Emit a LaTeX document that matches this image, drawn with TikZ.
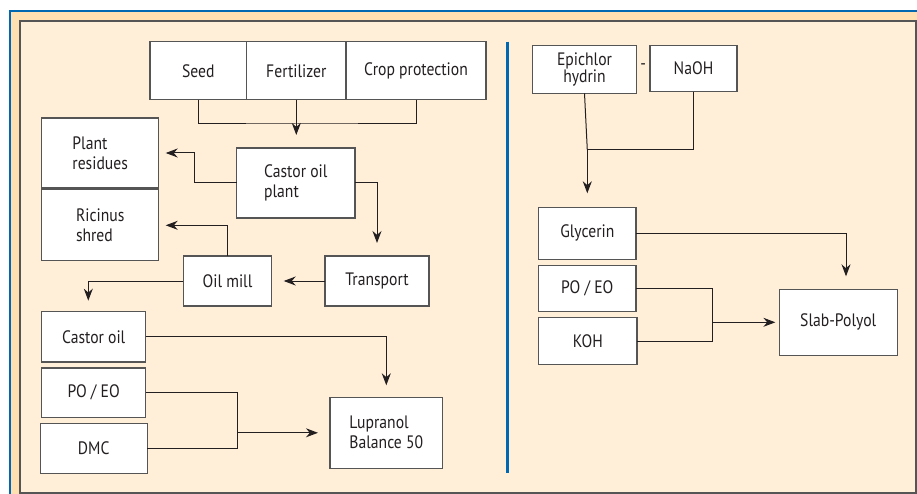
\documentclass[tikz,border=0pt]{standalone}
\usepackage{fontspec}
\setmainfont[FakeStretch=0.87]{PT Sans}
\usepackage{tikz}
\usetikzlibrary{arrows.meta}
\definecolor{frameblue}{RGB}{0,103,177}
\definecolor{bandorange}{RGB}{255,224,176}
\definecolor{panelcream}{RGB}{255,239,217}
\definecolor{boxgray}{RGB}{85,85,85}
\definecolor{inkgray}{RGB}{35,31,32}
\tikzstyle{box}=[draw=boxgray, fill=white, line width=1.1pt, inner sep=0, outer sep=0,
                 text=inkgray, font=\fontsize{18}{20}\selectfont]
\tikzstyle{link}=[draw=inkgray, line width=1pt]
\tikzstyle{feed}=[link, -{Stealth[length=12pt, width=9pt]}]

\begin{document}
\begin{tikzpicture}[x=1pt, y=-1pt]
        % page and frame
        \useasboundingbox (0,0) rectangle (917,494);
        \fill[white] (0,0) rectangle (917,494);
        \fill[bandorange] (10,11) rectangle (917,494);
        \draw[frameblue, line width=2.5pt] (10,494) -- (10,11) -- (917,11);
        \draw[boxgray, fill=panelcream, line width=1.1pt] (20,21) rectangle (916,493);
        \draw[frameblue, line width=2.5pt] (507.7,41.7) -- (507.7,472.7);

        % castor oil route
        \node[box, minimum width=96.7, minimum height=58.3] (seed) at (198.3,70.8) {Seed};
        \node[box, minimum width=99.3, minimum height=58.3] (fert) at (296.3,70.8) {Fertilizer};
        \node[box, minimum width=140, minimum height=58.3] (crop) at (416,70.8) {Crop protection};
        \node[box, minimum width=117, minimum height=70, align=left] (resid) at (100.2,153) {Plant\\residues};
        \node[box, minimum width=117, minimum height=70.7, align=left] (ricin) at (100.2,225.3) {Ricinus\\shred};
        \node[box, minimum width=118.3, minimum height=70, align=left] (cplant) at (295.8,183) {Castor oil\\plant};
        \node[box, minimum width=88.4, minimum height=50] (mill) at (227.5,281) {Oil mill};
        \node[box, minimum width=104, minimum height=50] (transp) at (377,281) {Transport};
        \node[box, minimum width=104, minimum height=50.3] (coil) at (93.7,336.8) {Castor oil};
        \node[box, minimum width=104, minimum height=49.7] (poeo) at (93.7,392.8) {PO / EO};
        \node[box, minimum width=106.7, minimum height=50] (dmc) at (93.7,448.3) {DMC};
        \node[box, minimum width=112.7, minimum height=71, align=left] (lupra) at (386.3,432.8) {Lupranol\\Balance 50};

        \coordinate (j1) at (296.3,124);
        \draw[link] (seed.south) |- (j1) -| (crop.south);
        \draw[feed, shorten >=13pt] (fert.south) -- (fert.south |- cplant.north);
        \draw[feed, shorten >=7pt] (cplant.west) -- ++(-41.7,0) |- (resid.east);
        \draw[feed, shorten >=13pt] (cplant.east) -| (transp.north);
        \draw[feed, shorten >=7pt] (mill.north) |- (ricin.east);
        \draw[feed, shorten >=12pt] (transp.west) -- (mill.east);
        \draw[feed, shorten >=11pt] (mill.west) -| ([xshift=-5.4pt]coil.north);
        \draw[feed, shorten >=12pt] (coil.east) -| (lupra.north);
        \coordinate (j2) at (237.7,432.8);
        \draw[link] (poeo.east) -| (j2) |- (dmc.east);
        \draw[feed, shorten >=12pt] (j2) -- (lupra.west);

        % glycerin route
        \node[box, minimum width=104.4, minimum height=48, align=center, font=\fontsize{18}{16}\selectfont] (epi) at (584.5,69.3) {Epichlor\\hydrin};
        \node[box, minimum width=87, minimum height=46.4] (naoh) at (693.5,68.5) {NaOH};
        \node[text=inkgray, font=\fontsize{18}{20}\selectfont, inner sep=0] (dash) at (643.3,66.7) {-};
        \node[box, minimum width=97.3, minimum height=52] (glyc) at (587.3,233.3) {Glycerin};
        \node[box, minimum width=97.3, minimum height=46] (poeo2) at (587.3,288.7) {PO / EO};
        \node[box, minimum width=98.3, minimum height=46.6] (koh) at (587.8,341) {KOH};
        \node[box, minimum width=117.7, minimum height=66] (slab) at (838.2,322.3) {Slab-Polyol};

        \coordinate (j3) at (587.3,150);
        \draw[link] (epi.south) -- (j3);
        \draw[link] (naoh.south) |- (j3);
        \draw[feed, shorten >=14pt] (j3) -- (glyc.north);
        \draw[feed, shorten >=13pt] (glyc.east) -| ([xshift=7.8pt]slab.north);
        \coordinate (j4) at (712,322.3);
        \draw[link] (poeo2.east) -| (j4) |- (koh.east);
        \draw[feed, shorten >=4pt] (j4) -- (slab.west);
\end{tikzpicture}
\end{document}
